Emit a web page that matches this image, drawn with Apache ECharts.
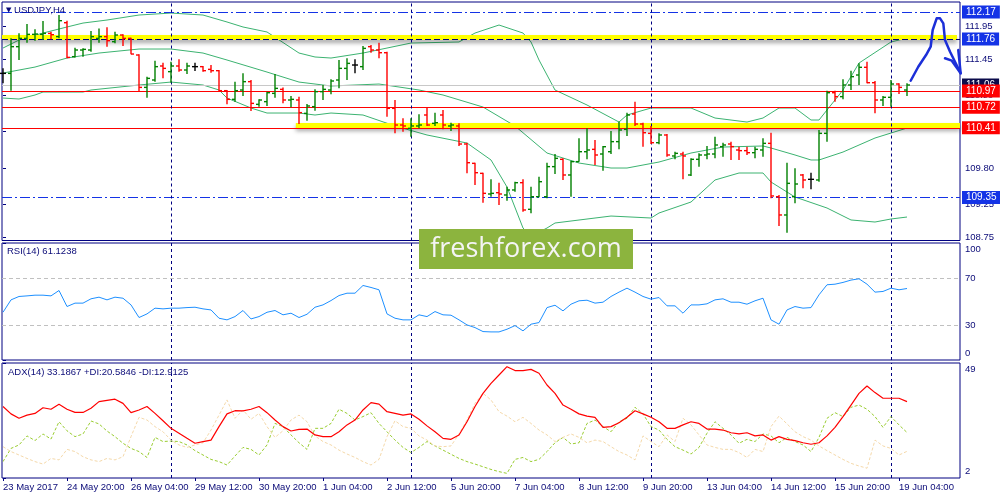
<!DOCTYPE html>
<html>
<head>
<meta charset="utf-8">
<script src="https://cdn.jsdelivr.net/npm/echarts@6/dist/echarts.min.js"></script>
<style>
html, body { margin: 0; padding: 0; background: #fff; }
#container { width: 1000px; height: 500px; }
</style>
</head>
<body>
<div id="container"></div>
<script>
// USDJPY H4, 23 May - 19 Jun 2017
var timeLabels = ['23 May 2017', '24 May 20:00', '26 May 04:00', '29 May 12:00', '30 May 20:00',
    '1 Jun 04:00', '2 Jun 12:00', '5 Jun 20:00', '7 Jun 04:00', '8 Jun 12:00',
    '9 Jun 20:00', '13 Jun 04:00', '14 Jun 12:00', '15 Jun 20:00', '19 Jun 04:00'];
var timeLabelBars = [0, 8, 16, 24, 32, 40, 48, 56, 64, 72, 80, 88, 96, 104, 112];
var weekStartBars = [21, 51, 81, 111];
var priceTicks = [108.75, 109.25, 109.80, 110.35, 110.90, 111.45, 111.95];

var opens = [111.237, 111.237, 111.643, 111.769, 111.830, 111.830, 111.845, 111.795, 112.007, 111.491,
    111.592, 111.592, 111.769, 111.795, 111.719, 111.820, 111.769, 111.516, 111.024, 111.136,
    111.349, 111.263, 111.349, 111.288, 111.339, 111.339, 111.298, 111.278, 110.974, 110.842,
    110.984, 111.111, 110.766, 110.807, 110.933, 110.994, 110.832, 110.832, 110.629, 110.731,
    110.959, 110.984, 111.136, 111.313, 111.364, 111.339, 111.643, 111.592, 111.551, 110.705,
    110.452, 110.401, 110.437, 110.604, 110.477, 110.604, 110.437, 110.437, 110.163, 109.869,
    109.717, 109.403, 109.423, 109.388, 109.464, 109.575, 109.170, 109.362, 109.362, 109.819,
    109.930, 109.692, 109.895, 110.046, 110.082, 110.011, 110.046, 110.199, 110.386, 110.619,
    110.467, 110.325, 110.183, 110.300, 109.981, 110.011, 109.692, 109.930, 109.996, 110.011,
    110.123, 110.163, 110.072, 110.062, 110.031, 110.072, 110.173, 109.362, 109.084, 109.362,
    109.692, 109.626, 109.616, 110.325, 110.943, 110.883, 111.060, 111.212, 111.329, 111.095,
    110.832, 110.873, 111.075, 110.984];
var highs = [111.313, 111.769, 111.845, 111.987, 111.906, 112.033, 111.871, 112.124, 112.038, 111.627,
    111.617, 111.881, 111.921, 111.937, 111.871, 111.830, 111.779, 111.526, 111.187, 111.430,
    111.399, 111.415, 111.450, 111.399, 111.399, 111.349, 111.364, 111.288, 110.984, 111.111,
    111.237, 111.136, 110.842, 110.959, 111.227, 111.024, 110.893, 110.883, 110.771, 110.994,
    111.060, 111.146, 111.440, 111.465, 111.450, 111.653, 111.668, 111.703, 111.567, 110.832,
    110.553, 110.553, 110.614, 110.715, 110.639, 110.680, 110.487, 110.477, 110.183, 109.879,
    109.727, 109.626, 109.575, 109.515, 109.590, 109.626, 109.515, 109.667, 109.879, 110.011,
    109.945, 109.910, 110.249, 110.401, 110.224, 110.133, 110.361, 110.503, 110.639, 110.807,
    110.487, 110.437, 110.325, 110.315, 110.046, 110.046, 109.945, 110.021, 110.133, 110.275,
    110.183, 110.199, 110.123, 110.123, 110.123, 110.249, 110.335, 109.388, 109.879, 109.793,
    109.707, 109.727, 110.376, 110.974, 110.974, 111.146, 111.278, 111.389, 111.415, 111.121,
    110.893, 111.136, 111.085, 111.085];
var lows = [111.085, 110.974, 111.440, 111.703, 111.734, 111.744, 111.754, 111.769, 111.465, 111.480,
    111.491, 111.567, 111.703, 111.643, 111.693, 111.653, 111.526, 110.959, 110.867, 111.111,
    111.161, 111.095, 111.263, 111.227, 111.273, 111.263, 111.247, 110.969, 110.766, 110.807,
    110.893, 110.665, 110.731, 110.741, 110.867, 110.781, 110.720, 110.467, 110.518, 110.670,
    110.832, 110.918, 111.009, 111.136, 111.237, 111.288, 111.551, 111.465, 110.579, 110.325,
    110.351, 110.275, 110.401, 110.437, 110.437, 110.386, 110.361, 110.133, 109.717, 109.540,
    109.271, 109.362, 109.236, 109.302, 109.439, 109.134, 109.109, 109.352, 109.337, 109.707,
    109.616, 109.362, 109.895, 109.930, 109.844, 109.758, 110.011, 110.082, 110.285, 110.437,
    110.123, 110.163, 110.158, 109.971, 109.930, 109.626, 109.677, 109.819, 109.930, 109.945,
    109.971, 109.920, 109.920, 109.996, 109.945, 109.971, 109.337, 108.917, 108.815, 109.261,
    109.489, 109.474, 109.591, 110.199, 110.807, 110.842, 110.984, 111.060, 111.085, 110.629,
    110.741, 110.731, 110.923, 110.893];
var closes = [111.237, 111.643, 111.769, 111.830, 111.835, 111.845, 111.825, 112.038, 111.480, 111.592,
    111.602, 111.795, 111.795, 111.734, 111.820, 111.769, 111.531, 111.024, 111.161, 111.339,
    111.313, 111.349, 111.288, 111.349, 111.339, 111.278, 111.278, 110.974, 110.842, 110.974,
    111.111, 110.781, 110.832, 110.943, 111.009, 110.832, 110.842, 110.640, 110.741, 110.959,
    110.994, 111.121, 111.313, 111.389, 111.364, 111.617, 111.592, 111.551, 110.705, 110.452,
    110.437, 110.437, 110.452, 110.452, 110.487, 110.452, 110.452, 110.163, 109.879, 109.727,
    109.413, 109.413, 109.403, 109.464, 109.575, 109.160, 109.362, 109.590, 109.819, 109.945,
    109.692, 109.895, 110.046, 110.072, 109.996, 110.122, 110.199, 110.376, 110.604, 110.467,
    110.335, 110.183, 110.300, 109.996, 110.021, 109.981, 109.930, 109.996, 110.011, 110.148,
    110.148, 110.123, 110.062, 110.031, 110.082, 110.173, 109.373, 109.084, 109.565, 109.555,
    109.616, 109.626, 110.325, 110.943, 110.883, 111.060, 111.187, 111.329, 111.095, 110.832,
    110.873, 111.075, 111.024, 111.060];

// Bollinger band vertices [bar, price]
var bbUpper = [[0, 111.622], [2, 111.744], [5, 111.850], [8, 111.942], [10, 112.002], [13, 112.048],
    [17, 112.124], [21, 112.154], [25, 112.124], [28, 112.018], [30, 111.942], [33, 111.866],
    [37, 111.546], [39, 111.486], [41, 111.470], [45, 111.546], [48, 111.622], [51, 111.698],
    [57, 111.714], [59, 111.850], [62, 111.972], [65, 111.850], [66, 111.714], [67, 111.440],
    [69, 110.984], [73, 110.756], [77, 110.497], [78, 110.604], [81, 110.710], [86, 110.710],
    [89, 110.558], [93, 110.497], [95, 110.558], [97, 110.710], [99, 110.710], [101, 110.528],
    [102, 110.528], [105, 110.984], [107, 111.394], [111, 111.714], [113, 111.774]];
var bbMiddle = [[0, 111.242], [4, 111.333], [8, 111.470], [12, 111.546], [17, 111.607], [21, 111.607],
    [25, 111.546], [28, 111.440], [33, 111.257], [37, 111.105], [41, 111.045], [47, 111.075],
    [52, 110.984], [55, 110.908], [60, 110.725], [64, 110.437], [68, 110.026], [72, 109.874],
    [76, 109.798], [78, 109.798], [82, 109.889], [86, 110.026], [90, 110.117], [95, 110.133],
    [96, 110.102], [99, 109.996], [101, 109.920], [102, 109.920], [105, 110.041], [109, 110.254],
    [113, 110.406]];
var bbLower = [[0, 110.862], [2, 110.847], [4, 110.908], [5, 110.953], [10, 110.953], [11, 110.984],
    [17, 111.060], [21, 111.105], [25, 111.060], [27, 110.984], [28, 110.862], [31, 110.710],
    [33, 110.634], [37, 110.634], [39, 110.604], [41, 110.634], [45, 110.604], [49, 110.437],
    [53, 110.300], [58, 110.178], [61, 109.920], [63, 109.509], [65, 108.886], [66, 108.760],
    [68, 108.886], [69, 108.962], [76, 109.068], [81, 109.038], [82, 109.114], [86, 109.281],
    [89, 109.616], [92, 109.722], [95, 109.722], [96, 109.585], [99, 109.357], [103, 109.190],
    [106, 109.008], [109, 108.977], [111, 109.023], [113, 109.053]];

var rsiValues = [40.8, 51.4, 54.3, 54.8, 55.4, 55.4, 54.8, 59.4, 45.7, 48.6,
    48.6, 52.3, 53.7, 51.4, 53.7, 52.8, 47.1, 36.3, 39.4, 44.3,
    43.7, 44.3, 44.3, 44.8, 45.1, 43.7, 42.8, 35.7, 34.3, 37.1,
    42.3, 35.1, 37.1, 40.8, 42.3, 38.6, 40.0, 36.3, 39.1, 45.1,
    47.1, 50.8, 55.1, 57.1, 57.1, 63.7, 62.0, 60.0, 39.4, 35.7,
    34.3, 34.3, 38.6, 37.1, 41.4, 38.6, 38.3, 34.3, 30.0, 27.7,
    24.3, 24.0, 24.0, 26.3, 29.4, 24.9, 30.6, 32.0, 44.8, 46.8,
    42.0, 47.7, 50.6, 51.1, 48.6, 49.4, 54.3, 58.0, 61.4, 58.0,
    54.3, 52.0, 53.4, 46.3, 46.3, 40.0, 47.1, 47.1, 48.0, 51.4,
    52.3, 49.4, 49.4, 47.7, 50.6, 52.8, 34.3, 30.6, 42.8, 45.7,
    44.3, 44.8, 55.7, 64.3, 64.8, 66.3, 68.3, 69.4, 64.8, 58.0,
    58.6, 61.4, 60.0, 61.1];
var rsiLevels = [30, 70];

var adxValues = [31.2, 28.2, 26.4, 27.7, 28.4, 30.7, 30.1, 32.1, 30.1, 28.8,
    28.8, 30.5, 33.2, 33.7, 34.2, 32.5, 28.7, 29.8, 31.2, 28.4,
    25.4, 22.3, 20.3, 18.2, 16.2, 16.9, 17.5, 23.0, 28.2, 29.5,
    29.4, 30.1, 31.2, 28.7, 25.7, 23.0, 21.2, 21.9, 22.0, 19.6,
    18.9, 18.9, 20.9, 23.7, 25.7, 29.8, 32.8, 32.2, 29.1, 28.4,
    27.7, 28.2, 26.0, 23.3, 20.9, 18.2, 17.8, 19.6, 25.0, 31.2,
    36.6, 40.7, 44.1, 47.5, 45.9, 45.9, 46.4, 44.8, 40.0, 36.6,
    31.8, 30.1, 28.2, 27.3, 26.8, 22.7, 23.0, 24.6, 26.8, 29.5,
    28.2, 26.8, 25.0, 22.3, 22.3, 23.7, 25.0, 24.3, 22.0, 22.0,
    21.6, 20.5, 20.0, 20.5, 19.2, 19.6, 17.5, 18.9, 17.8, 17.3,
    16.4, 15.8, 16.4, 19.2, 22.7, 27.1, 31.8, 36.6, 39.6, 36.9,
    34.6, 34.6, 34.6, 33.2];
var plusDI = [8.7, 14.1, 15.5, 19.2, 17.3, 20.0, 17.9, 25.0, 21.3, 18.9,
    20.0, 25.3, 24.1, 21.2, 18.9, 16.2, 14.1, 12.8, 10.4, 18.6,
    16.9, 17.1, 16.9, 15.5, 13.2, 11.4, 9.6, 8.7, 7.3, 11.0,
    14.5, 13.7, 11.4, 15.5, 24.3, 23.0, 19.6, 16.4, 13.7, 22.3,
    22.3, 24.3, 30.1, 28.4, 25.7, 27.1, 28.7, 24.3, 20.9, 17.5,
    14.5, 12.4, 14.5, 16.9, 15.1, 13.4, 11.7, 10.0, 8.7, 7.7,
    6.6, 5.5, 4.6, 3.9, 9.6, 10.4, 8.7, 9.6, 12.8, 16.4,
    18.6, 15.9, 16.4, 24.3, 25.7, 23.0, 20.9, 25.0, 26.4, 30.9,
    28.2, 23.0, 21.6, 17.8, 14.8, 13.4, 11.8, 14.5, 20.3, 25.0,
    22.3, 19.6, 16.2, 17.8, 16.9, 20.0, 19.2, 16.4, 18.6, 16.9,
    15.5, 12.8, 18.6, 26.4, 28.7, 27.1, 30.9, 31.8, 30.1, 27.1,
    22.7, 27.1, 23.7, 20.6];
var minusDI = [14.8, 12.8, 11.4, 10.0, 8.7, 7.7, 10.0, 9.4, 13.7, 12.8,
    10.7, 9.4, 8.7, 10.0, 9.4, 10.7, 18.9, 26.8, 25.7, 23.0,
    20.9, 17.5, 15.5, 14.5, 15.5, 16.4, 21.6, 27.7, 33.9, 26.4,
    29.8, 26.0, 28.4, 23.0, 18.6, 21.3, 25.7, 27.7, 25.0, 19.2,
    16.9, 15.5, 13.4, 11.8, 10.4, 8.7, 7.3, 9.6, 18.9, 25.4,
    23.0, 22.3, 19.2, 17.5, 15.1, 14.8, 15.1, 20.0, 25.7, 32.5,
    36.6, 33.9, 29.1, 27.3, 25.0, 26.8, 24.3, 21.6, 19.6, 16.9,
    18.6, 20.0, 18.6, 16.4, 17.5, 16.9, 14.8, 12.8, 11.4, 9.4,
    19.2, 16.9, 14.8, 19.6, 16.9, 26.4, 23.7, 19.6, 15.5, 14.5,
    13.7, 13.7, 12.4, 10.4, 13.7, 12.8, 23.0, 27.3, 24.1, 20.9,
    18.9, 17.5, 15.1, 13.2, 11.4, 9.6, 8.0, 6.9, 6.0, 17.5,
    15.1, 14.1, 11.4, 12.9];

// drawn objects on the price chart
var blueLevels = [112.17, 109.35];
var redLevels = [110.97, 110.72, 110.41];
var bidPrice = 111.06;
var resistanceLevel = 111.76;
var yellowZones = [[-0.125, 119.25, 111.785], [36.6, 119.625, 110.447]];
var arrowPath = [[113.46, 111.125], [114.41, 111.338], [115.38, 111.516], [115.96, 111.642],
    [116.21, 111.896], [116.71, 112.074], [117.13, 112.074], [117.54, 111.998], [117.75, 111.744],
    [118.38, 111.566], [119.71, 111.238]];
var arrowHead = [[117.75, 111.466], [118.6, 111.43], [119.71, 111.238], [119.41, 111.592]];

var NAVY = '#000080';
var TXT = '#0b0b78';
var FONT = '"Liberation Sans", Arial, sans-serif';
var BLUE = '#1433e6';
var XMIN = -0.125, XMAX = 119.625;

var bars = opens.map(function (o, i) { return [i, o, highs[i], lows[i], closes[i]]; });
var pairs = function (arr) { return arr.map(function (v, i) { return [i, v]; }); };

function renderBar(params, api) {
    var i = api.value(0), o = api.value(1), h = api.value(2), l = api.value(3), c = api.value(4);
    var top = api.coord([i, h]), bot = api.coord([i, l]);
    var yo = api.coord([i, o])[1], yc = api.coord([i, c])[1];
    var col = c - o > 0.0005 ? '#008000' : (o - c > 0.0005 ? '#ff0000' : '#000000');
    var x = top[0];
    return {
        type: 'group',
        children: [
            { type: 'line', shape: { x1: x, y1: top[1], x2: x, y2: bot[1] }, style: { stroke: col, lineWidth: 1.4 } },
            { type: 'line', shape: { x1: x - 3, y1: yo, x2: x, y2: yo }, style: { stroke: col, lineWidth: 1.4 } },
            { type: 'line', shape: { x1: x, y1: yc, x2: x + 3, y2: yc }, style: { stroke: col, lineWidth: 1.4 } }
        ]
    };
}

function priceLabel(bg) {
    return {
        show: true, position: 'end', distance: 2, color: '#fff', backgroundColor: bg,
        fontFamily: FONT, fontSize: 10, padding: [2, 4, 1, 4],
        formatter: function (p) { return p.value.toFixed(2); }
    };
}

var levelData = [];
yellowZones.forEach(function (z) {
    levelData.push([
        { coord: [z[0], z[2]], lineStyle: { color: '#ffff00', width: 5, type: 'solid',
            shadowColor: 'rgba(0,0,0,0.35)', shadowBlur: 4, shadowOffsetY: 3 }, label: { show: false } },
        { coord: [z[1], z[2]] }
    ]);
});
levelData.push({ yAxis: bidPrice, lineStyle: { color: '#c8c8c8', width: 1, type: 'solid' }, label: priceLabel('#0b0b4a') });
levelData.push({ yAxis: resistanceLevel, lineStyle: { color: NAVY, width: 1, type: [6, 3] }, label: priceLabel(BLUE) });
redLevels.forEach(function (v) {
    levelData.push({ yAxis: v, lineStyle: { color: '#ff0000', width: 1, type: 'solid' }, label: priceLabel('#ff0000') });
});
blueLevels.forEach(function (v) {
    levelData.push({ yAxis: v, lineStyle: { color: BLUE, width: 1, type: [10, 3, 2, 3] }, label: priceLabel(BLUE) });
});

function separators() {
    return {
        silent: true, symbol: ['none', 'none'], animation: false,
        label: { show: false },
        lineStyle: { color: NAVY, width: 1, type: [3, 3] },
        data: weekStartBars.map(function (b) { return { xAxis: b }; })
    };
}

function xAxisFor(idx, showLabels) {
    return {
        type: 'value', gridIndex: idx, min: XMIN, max: XMAX,
        axisLine: { show: false }, splitLine: { show: false },
        axisTick: showLabels ? { show: true, customValues: timeLabelBars, length: 3, lineStyle: { color: NAVY } } : { show: false },
        axisLabel: showLabels ? {
            show: true, customValues: timeLabelBars, align: 'left', margin: 4,
            color: TXT, fontFamily: FONT, fontSize: 9.5,
            formatter: function (v) { return timeLabels[timeLabelBars.indexOf(v)]; }
        } : { show: false }
    };
}

var edgeRich = { dn: { padding: [12, 0, 0, 0] }, up: { padding: [0, 0, 13, 0] }, n: {} };

var myChart = echarts.init(document.getElementById('container'));
var option = {
    animation: false,
    backgroundColor: '#ffffff',
    title: [
        { text: '{t|▼} USDJPY,H4', left: 6, top: 5, padding: 0,
          textStyle: { fontSize: 9.5, color: TXT, fontWeight: 'normal', fontFamily: FONT,
                       rich: { t: { fontSize: 7, color: TXT, fontFamily: 'DejaVu Sans' } } } },
        { text: 'RSI(14) 61.1238', left: 7, top: 246, padding: 0,
          textStyle: { fontSize: 9.5, color: TXT, fontWeight: 'normal', fontFamily: FONT } },
        { text: 'ADX(14) 33.1867 +DI:20.5846 -DI:12.9125', left: 8, top: 367, padding: 0,
          textStyle: { fontSize: 9.5, color: TXT, fontWeight: 'normal', fontFamily: FONT } }
    ],
    grid: [
        { left: 2, right: 40, top: 2, height: 238.5, show: true, borderColor: NAVY, borderWidth: 1, backgroundColor: 'transparent' },
        { left: 2, right: 40, top: 243, height: 117, show: true, borderColor: NAVY, borderWidth: 1, backgroundColor: 'transparent' },
        { left: 2, right: 40, top: 363, height: 115, show: true, borderColor: NAVY, borderWidth: 1, backgroundColor: 'transparent' }
    ],
    xAxis: [xAxisFor(0, false), xAxisFor(1, false), xAxisFor(2, true)],
    yAxis: [
        { type: 'value', gridIndex: 0, position: 'right', min: 108.696, max: 112.322,
          axisLine: { show: false }, splitLine: { show: false },
          axisTick: { show: true, customValues: priceTicks, length: 3, lineStyle: { color: NAVY } },
          axisLabel: { customValues: priceTicks, margin: 5, color: TXT, fontFamily: FONT, fontSize: 9.5,
                       formatter: function (v) { return v.toFixed(2); } } },
        { type: 'value', gridIndex: 1, position: 'right', min: 0, max: 100,
          axisLine: { show: false }, splitLine: { show: false },
          axisTick: { show: true, customValues: [0, 30, 70, 100], length: 3, lineStyle: { color: NAVY } },
          axisLabel: { customValues: [0, 30, 70, 100], margin: 5, color: TXT, fontFamily: FONT, fontSize: 9.5, rich: edgeRich,
                       formatter: function (v) { return v === 100 ? '{dn|100}' : (v === 0 ? '{up|0}' : '{n|' + v + '}'); } } },
        { type: 'value', gridIndex: 2, position: 'right', min: 2, max: 49,
          axisLine: { show: false }, splitLine: { show: false },
          axisTick: { show: true, customValues: [2, 49], length: 3, lineStyle: { color: NAVY } },
          axisLabel: { customValues: [2, 49], margin: 5, color: TXT, fontFamily: FONT, fontSize: 9.5, rich: edgeRich,
                       formatter: function (v) { return v === 49 ? '{dn|49}' : '{up|2}'; } } }
    ],
    series: [
        { name: 'BB upper', type: 'line', xAxisIndex: 0, yAxisIndex: 0, data: bbUpper, symbol: 'none',
          lineStyle: { color: '#3cb371', width: 1 }, z: 2 },
        { name: 'BB middle', type: 'line', xAxisIndex: 0, yAxisIndex: 0, data: bbMiddle, symbol: 'none',
          lineStyle: { color: '#3cb371', width: 1 }, z: 2, clip: false,
          markLine: { silent: true, symbol: ['none', 'none'], label: { show: false }, data: levelData } },
        { name: 'BB lower', type: 'line', xAxisIndex: 0, yAxisIndex: 0, data: bbLower, symbol: 'none',
          lineStyle: { color: '#3cb371', width: 1 }, z: 2 },
        { name: 'USDJPY', type: 'custom', xAxisIndex: 0, yAxisIndex: 0, data: bars, renderItem: renderBar,
          encode: { x: 0, y: [1, 2, 3, 4] }, z: 6, markLine: separators() },
        { name: 'arrow', type: 'line', xAxisIndex: 0, yAxisIndex: 0, data: arrowPath, symbol: 'none', clip: false,
          lineStyle: { color: '#1c2fd8', width: 2.5, join: 'round', cap: 'round' }, z: 10 },
        { name: 'arrow head', type: 'line', xAxisIndex: 0, yAxisIndex: 0, data: arrowHead, symbol: 'none', clip: false,
          lineStyle: { color: '#1c2fd8', width: 2.5, join: 'round', cap: 'round' }, z: 10 },
        { name: 'RSI', type: 'line', xAxisIndex: 1, yAxisIndex: 1, data: pairs(rsiValues), symbol: 'none',
          lineStyle: { color: '#1e90ff', width: 1 }, z: 6,
          markLine: { silent: true, symbol: ['none', 'none'], label: { show: false },
              data: rsiLevels.map(function (v) { return { yAxis: v, lineStyle: { color: '#c0c0c0', width: 1, type: [4, 3] } }; })
                  .concat(weekStartBars.map(function (b) { return { xAxis: b, lineStyle: { color: NAVY, width: 1, type: [3, 3] } }; })) } },
        { name: 'ADX', type: 'line', xAxisIndex: 2, yAxisIndex: 2, data: pairs(adxValues), symbol: 'none',
          lineStyle: { color: '#ff0000', width: 1.2 }, z: 7, markLine: separators() },
        { name: '+DI', type: 'line', xAxisIndex: 2, yAxisIndex: 2, data: pairs(plusDI), symbol: 'none',
          lineStyle: { color: '#9acd32', width: 1, type: [3, 2] }, z: 6 },
        { name: '-DI', type: 'line', xAxisIndex: 2, yAxisIndex: 2, data: pairs(minusDI), symbol: 'none',
          lineStyle: { color: '#f5d9aa', width: 1, type: [3, 2] }, z: 6 }
    ],
    graphic: [
        { type: 'rect', shape: { x: 419, y: 229, width: 214, height: 40 }, style: { fill: '#8cb43e' }, z: 100 },
        { type: 'text', x: 526, y: 249, z: 101,
          style: { text: 'freshforex.com', fill: '#f4f4f4', fontSize: 27, fontFamily: '"Open Sans", sans-serif',
                   align: 'center', verticalAlign: 'middle' } }
    ]
};
myChart.setOption(option);
</script>
</body>
</html>
